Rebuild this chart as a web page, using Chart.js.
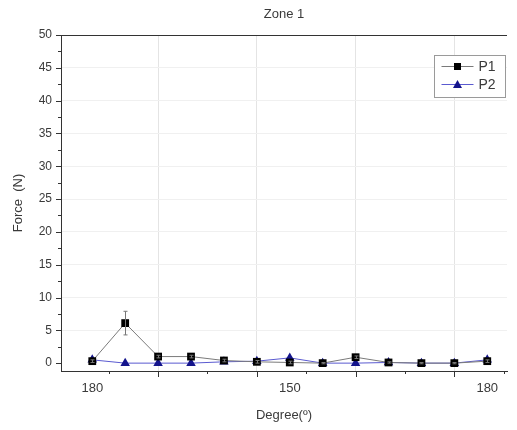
<!DOCTYPE html>
<html>
<head>
<meta charset="utf-8">
<script src="https://cdn.jsdelivr.net/npm/chart.js@4.4.1/dist/chart.umd.min.js"></script>
<style>
html,body{margin:0;padding:0;background:#fff;}
#wrap{width:517px;height:430px;}
</style>
</head>
<body>
<div id="wrap"><canvas id="c" width="517" height="430"></canvas></div>
<script>
const positions = [0, 1, 2, 3, 4, 5, 6, 7, 8, 9, 10, 11, 12];
const p1Values = [0.3, 6.1, 1.0, 1.0, 0.4, 0.2, 0.1, 0.0, 0.9, 0.1, 0.0, 0.0, 0.3];
const p1Errors = [0.2, 1.8, 0.2, 0.2, 0.2, 0.2, 0.2, 0.1, 0.2, 0.1, 0.1, 0.1, 0.2];
const p2Values = [0.5, 0.0, 0.0, 0.0, 0.2, 0.3, 0.8, 0.0, 0.0, 0.1, 0.0, 0.0, 0.5];
const xTickPositions = [0, 6, 12];
const xTickLabels = ['180', '150', '180'];
const xGridPositions = [2, 5, 8, 11];
const xMinorPositions = [0.5, 3.5, 6.5, 9.5, 12.5];
const yMajorTicks = [0, 5, 10, 15, 20, 25, 30, 35, 40, 45, 50];

const FONT = '"Liberation Sans", Arial, sans-serif';
const TXT = '#3a3a3a';

const toXY = (vals) => positions.map((x, i) => ({x: x, y: vals[i]}));

const extras = {
  id: 'extras',
  afterDatasetsDraw(chart) {
    const ctx = chart.ctx;
    const xs = chart.scales.x, ys = chart.scales.y;
    ctx.save();
    ctx.strokeStyle = '#777';
    ctx.lineWidth = 1;
    positions.forEach((x, i) => {
      const e = p1Errors[i];
      if (!e) return;
      const px = Math.round(xs.getPixelForValue(x)) + 0.5;
      const yt = ys.getPixelForValue(p1Values[i] + e);
      const yb = ys.getPixelForValue(p1Values[i] - e);
      ctx.beginPath();
      ctx.moveTo(px, yt); ctx.lineTo(px, yb);
      ctx.moveTo(px - 2, yt); ctx.lineTo(px + 2, yt);
      ctx.moveTo(px - 2, yb); ctx.lineTo(px + 2, yb);
      ctx.stroke();
    });
    ctx.restore();
  },
  afterDraw(chart) {
    const ctx = chart.ctx;
    const xs = chart.scales.x, ys = chart.scales.y;
    const ca = chart.chartArea;
    ctx.save();
    ctx.strokeStyle = '#333';
    ctx.lineWidth = 1;
    ctx.beginPath();
    ctx.moveTo(ca.left, ca.top + 0.5);
    ctx.lineTo(ca.right, ca.top + 0.5);
    ctx.stroke();
    ctx.beginPath();
    for (let v = 0; v <= 50; v += 2.5) {
      const py = Math.round(ys.getPixelForValue(v)) + 0.5;
      const len = (v % 5 === 0) ? 5 : 3;
      ctx.moveTo(ca.left - len, py); ctx.lineTo(ca.left, py);
    }
    xGridPositions.forEach(v => {
      const px = Math.round(xs.getPixelForValue(v)) + 0.5;
      ctx.moveTo(px, ca.bottom); ctx.lineTo(px, ca.bottom + 6);
    });
    xMinorPositions.forEach(v => {
      const px = Math.round(xs.getPixelForValue(v)) + 0.5;
      ctx.moveTo(px, ca.bottom); ctx.lineTo(px, ca.bottom + 3);
    });
    ctx.stroke();

    const bx = ca.right - 72.5, by = ca.top + 20.5, bw = 71, bh = 42;
    ctx.fillStyle = '#fff';
    ctx.fillRect(bx, by, bw, bh);
    ctx.strokeStyle = '#9a9a9a';
    ctx.strokeRect(bx, by, bw, bh);
    ctx.font = '14px ' + FONT;
    ctx.textBaseline = 'middle';
    chart.data.datasets.forEach((ds, i) => {
      const ly = by + 11 + i * 18;
      ctx.strokeStyle = ds.borderColor;
      ctx.lineWidth = 1;
      ctx.beginPath();
      ctx.moveTo(bx + 7, ly); ctx.lineTo(bx + 39, ly);
      ctx.stroke();
      ctx.fillStyle = ds.pointBackgroundColor;
      const cx = bx + 23;
      if (ds.pointStyle === 'rect') {
        ctx.fillRect(cx - 3.5, ly - 3.5, 7, 7);
      } else {
        ctx.beginPath();
        ctx.moveTo(cx, ly - 4.5);
        ctx.lineTo(cx + 4.5, ly + 3.5);
        ctx.lineTo(cx - 4.5, ly + 3.5);
        ctx.closePath();
        ctx.fill();
      }
      ctx.fillStyle = TXT;
      ctx.textAlign = 'left';
      ctx.fillText(ds.label, bx + 44, ly + 1);
    });
    ctx.restore();
  }
};

new Chart(document.getElementById('c'), {
  type: 'line',
  data: {
    datasets: [
      {
        label: 'P1',
        data: toXY(p1Values),
        borderColor: '#7a7a7a',
        borderWidth: 1,
        pointStyle: 'rect',
        pointRadius: 5.5,
        pointBackgroundColor: '#000000',
        pointBorderColor: '#000000',
        pointBorderWidth: 0,
        tension: 0
      },
      {
        label: 'P2',
        data: toXY(p2Values),
        borderColor: '#5a5ad0',
        borderWidth: 1,
        pointStyle: 'triangle',
        pointRadius: 5.5,
        pointBackgroundColor: '#14148c',
        pointBorderColor: '#14148c',
        pointBorderWidth: 0,
        tension: 0
      }
    ]
  },
  options: {
    responsive: false,
    animation: false,
    layout: { padding: { left: 0, right: 10, top: 0, bottom: 0 } },
    plugins: {
      legend: { display: false },
      tooltip: { enabled: false },
      title: {
        display: true,
        text: 'Zone 1',
        fullSize: false,
        color: TXT,
        font: { family: FONT, size: 13, weight: 'normal' },
        padding: { top: 7, bottom: 12.4 }
      }
    },
    scales: {
      x: {
        type: 'linear',
        min: -0.95,
        max: 12.6,
        afterBuildTicks(scale) {
          scale.ticks = [0, 2, 5, 6, 8, 11, 12].map(v => ({ value: v }));
        },
        afterFit(scale) { scale.height = 59; },
        border: { display: true, color: '#333', width: 1 },
        grid: {
          drawTicks: false,
          color: (c) => (c.tick && xGridPositions.includes(c.tick.value)) ? '#e4e4e4' : 'rgba(0,0,0,0)',
          lineWidth: 1
        },
        ticks: {
          autoSkip: false,
          maxRotation: 0,
          padding: 10,
          color: TXT,
          font: { family: FONT, size: 13 },
          callback: (v) => {
            const k = xTickPositions.indexOf(v);
            return k >= 0 ? xTickLabels[k] : '';
          }
        },
        title: {
          display: true,
          text: 'Degree(º)',
          color: TXT,
          font: { family: FONT, size: 13 },
          padding: { top: 4, bottom: 7 }
        }
      },
      y: {
        type: 'linear',
        min: -1.2,
        max: 50,
        afterBuildTicks(scale) {
          scale.ticks = yMajorTicks.map(v => ({ value: v }));
        },
        afterFit(scale) { scale.width = 61; },
        border: { display: true, color: '#333', width: 1 },
        grid: {
          drawTicks: false,
          color: (c) => (c.tick && c.tick.value > 0 && c.tick.value < 50) ? '#f0f0f0' : 'rgba(0,0,0,0)',
          lineWidth: 1
        },
        ticks: {
          padding: 9,
          color: TXT,
          font: { family: FONT, size: 12 }
        },
        title: {
          display: true,
          text: 'Force  (N)',
          color: TXT,
          font: { family: FONT, size: 13 },
          padding: { top: 11, bottom: 0 }
        }
      }
    }
  },
  plugins: [extras]
});
</script>
</body>
</html>
